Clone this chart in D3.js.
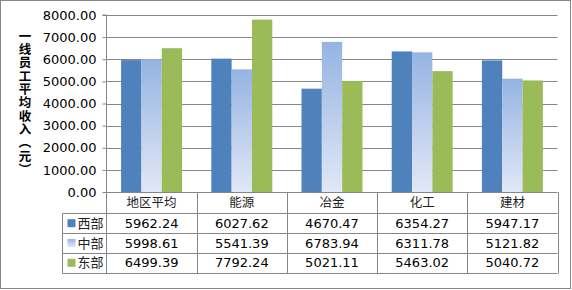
<!DOCTYPE html>
<html>
<head>
<meta charset="utf-8">
<script src="https://cdn.jsdelivr.net/npm/d3@7"></script>
<style>
  body { margin: 0; background: #fff; }
  text { font-family: "DejaVu Sans", sans-serif; }
</style>
</head>
<body>
<svg id="chart" width="572" height="290"></svg>
<script>
// data
const categories = ['地区平均', '能源', '冶金', '化工', '建材'];
const seriesNames = ['西部', '中部', '东部'];
const west = [5962.24, 6027.62, 4670.47, 6354.27, 5947.17];
const middle = [5998.61, 5541.39, 6783.94, 6311.78, 5121.82];
const east = [6499.39, 7792.24, 5021.11, 5463.02, 5040.72];
const yTicks = [0, 1000, 2000, 3000, 4000, 5000, 6000, 7000, 8000];
const yTitle = '一线员工平均收入（元）';

const svg = d3.select('#chart');
const gridColor = '#868686';
const plot = {left: 106.5, right: 557.5, top: 15, bottom: 192};
const legendLeft = 62.5;
const rowH = 19.8;
const headerBottom = 213.3;

const values = [west, middle, east];
const fills = ['#4F81BD', 'url(#midGrad)', '#9BBB59'];

// gradient for 中部
const defs = svg.append('defs');
const grad = defs.append('linearGradient')
    .attr('id', 'midGrad')
    .attr('x1', 0).attr('y1', 0).attr('x2', 0).attr('y2', 1);
grad.append('stop').attr('offset', '0%').attr('stop-color', '#95B3E2');
grad.append('stop').attr('offset', '100%').attr('stop-color', '#E1E8F6');

// outer border
svg.append('rect')
    .attr('x', 0.5).attr('y', 0.5)
    .attr('width', 570).attr('height', 288)
    .attr('fill', 'none').attr('stroke', gridColor);

const xScale = d3.scaleBand()
    .domain(categories)
    .range([plot.left, plot.right])
    .paddingInner(0.324)
    .paddingOuter(0.162);
const xSub = d3.scaleBand()
    .domain(seriesNames)
    .range([0, xScale.bandwidth()]);
const yScale = d3.scaleLinear()
    .domain([0, 8000])
    .range([plot.bottom, plot.top]);

// y axis with gridlines
const yAxis = d3.axisLeft(yScale)
    .tickValues(yTicks)
    .tickFormat(d3.format('.2f'))
    .tickSize(4)
    .tickPadding(6);
const yAxisGroup = svg.append('g')
    .attr('transform', `translate(${plot.left},0)`)
    .call(yAxis);
yAxisGroup.select('.domain').attr('stroke', gridColor).attr('d', `M-4,${plot.top}H0V${plot.bottom}`);
yAxisGroup.selectAll('.tick line').attr('stroke', gridColor);
yAxisGroup.selectAll('.tick text')
    .attr('font-size', 13)
    .attr('fill', '#000')
    .attr('font-family', '"DejaVu Sans", sans-serif');

svg.append('g').selectAll('line')
    .data(yTicks.slice(1))
    .join('line')
    .attr('x1', plot.left).attr('x2', plot.right)
    .attr('y1', d => Math.round(yScale(d)) + 0.5)
    .attr('y2', d => Math.round(yScale(d)) + 0.5)
    .attr('stroke', gridColor);

// bars
const groups = svg.append('g').selectAll('g')
    .data(categories)
    .join('g')
    .attr('transform', d => `translate(${xScale(d)},0)`);
groups.selectAll('rect')
    .data((d, i) => seriesNames.map((s, j) => ({s, j, v: values[j][i]})))
    .join('rect')
    .attr('x', d => xSub(d.s))
    .attr('width', xSub.bandwidth())
    .attr('y', d => yScale(d.v))
    .attr('height', d => plot.bottom - yScale(d.v))
    .attr('fill', d => fills[d.j]);

// y title, written vertically
svg.append('text')
    .attr('x', 25)
    .attr('y', 103)
    .attr('text-anchor', 'middle')
    .style('writing-mode', 'vertical-rl')
    .style('text-orientation', 'upright')
    .style('font-family', '"Noto Sans CJK SC", sans-serif')
    .attr('font-size', 12.5)
    .attr('font-weight', 'bold')
    .attr('letter-spacing', 0.8)
    .attr('fill', '#000')
    .text(yTitle);

// data table
const tableG = svg.append('g');
const tableBottom = headerBottom + rowH * 3;
const colEdges = categories.map(c => xScale(c) - xScale.step() * xScale.paddingInner() / 2);
colEdges.push(plot.right);

// horizontal lines
tableG.append('line')
    .attr('x1', plot.left).attr('x2', plot.right)
    .attr('y1', plot.bottom + 0.5).attr('y2', plot.bottom + 0.5)
    .attr('stroke', gridColor);
[0, 1, 2, 3].forEach(i => {
    const y = Math.round(headerBottom + rowH * i) + 0.5;
    tableG.append('line')
        .attr('x1', legendLeft).attr('x2', plot.right)
        .attr('y1', y).attr('y2', y)
        .attr('stroke', gridColor);
});
// vertical lines
tableG.selectAll('line.col')
    .data(colEdges)
    .join('line')
    .attr('class', 'col')
    .attr('x1', d => Math.round(d) + 0.5).attr('x2', d => Math.round(d) + 0.5)
    .attr('y1', plot.bottom).attr('y2', Math.round(tableBottom) + 0.5)
    .attr('stroke', gridColor);
tableG.append('line')
    .attr('x1', legendLeft).attr('x2', legendLeft)
    .attr('y1', Math.round(headerBottom) + 0.5).attr('y2', Math.round(tableBottom) + 0.5)
    .attr('stroke', gridColor);

// header labels
tableG.selectAll('text.cat')
    .data(categories)
    .join('text')
    .attr('class', 'cat')
    .attr('x', d => xScale(d) + xScale.bandwidth() / 2)
    .attr('y', (plot.bottom + headerBottom) / 2)
    .attr('dy', '0.36em')
    .attr('text-anchor', 'middle')
    .style('font-family', '"Noto Sans CJK SC", sans-serif')
    .attr('font-size', 12.5)
    .attr('fill', '#222')
    .text(d => d);

// rows
seriesNames.forEach((s, j) => {
    const yMid = headerBottom + rowH * j + rowH / 2;
    tableG.append('rect')
        .attr('x', 67.5).attr('y', yMid - 4)
        .attr('width', 8).attr('height', 8)
        .attr('fill', fills[j]);
    tableG.append('text')
        .attr('x', 77.5).attr('y', yMid)
        .attr('dy', '0.36em')
        .style('font-family', '"Noto Sans CJK SC", sans-serif')
        .attr('font-size', 13)
        .attr('fill', '#222')
        .text(s);
    tableG.selectAll(`text.v${j}`)
        .data(values[j])
        .join('text')
        .attr('class', `v${j}`)
        .attr('x', (d, i) => xScale(categories[i]) + xScale.bandwidth() / 2)
        .attr('y', yMid)
        .attr('dy', '0.36em')
        .attr('text-anchor', 'middle')
        .attr('font-size', 13)
        .attr('fill', '#000')
        .text(d => d3.format('.2f')(d));
});
</script>
</body>
</html>
